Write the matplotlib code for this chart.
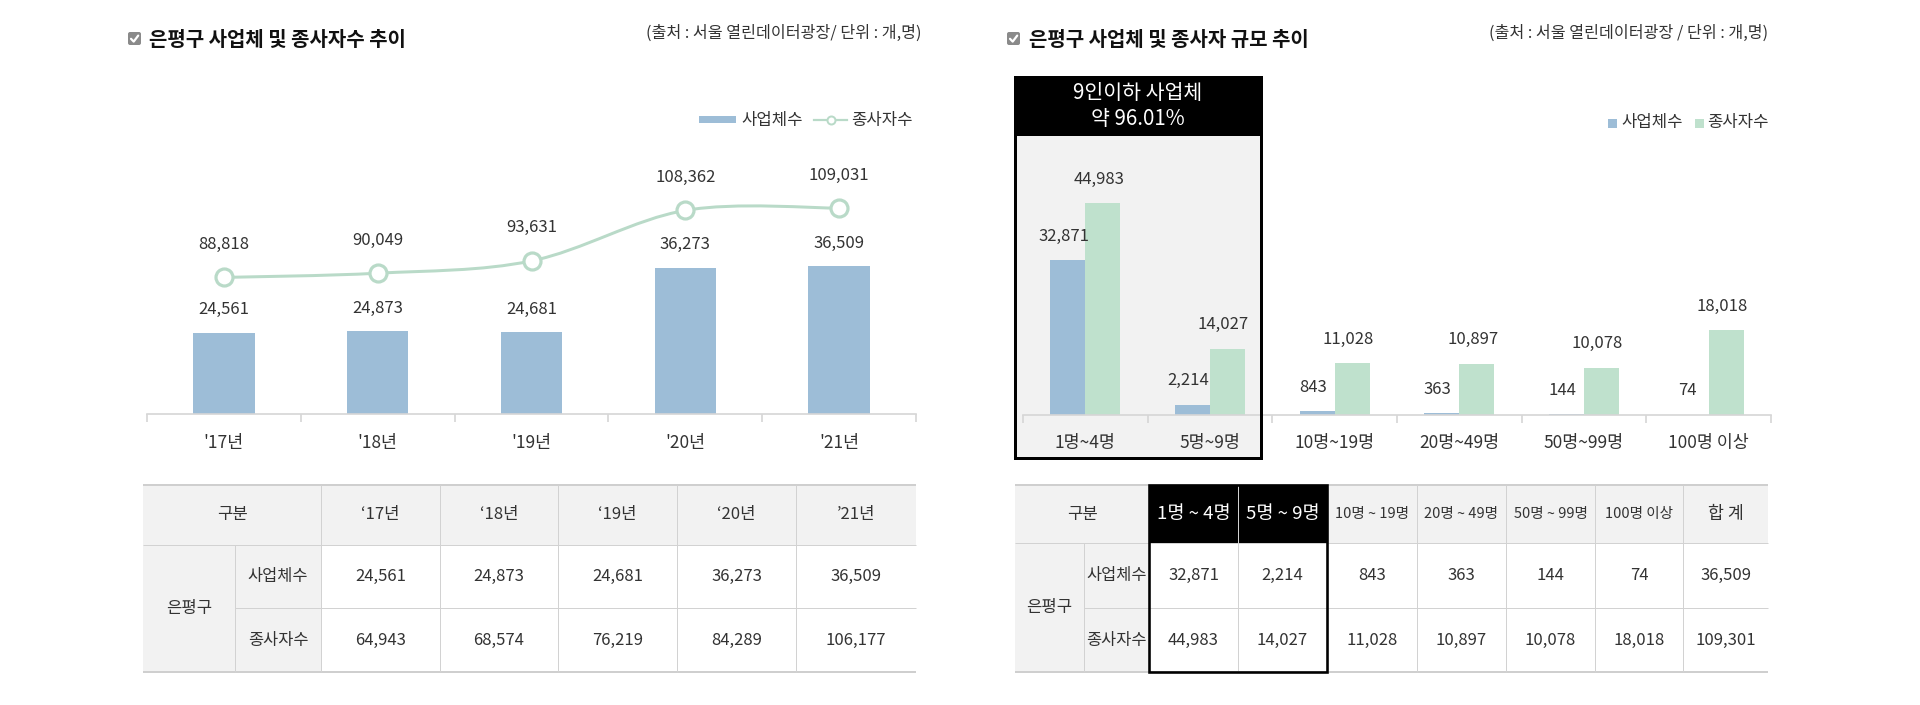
import matplotlib
matplotlib.use("Agg")
import matplotlib.pyplot as plt
from matplotlib.patches import Rectangle, FancyBboxPatch, PathPatch
from matplotlib.path import Path
import numpy as np

plt.rcParams['font.family'] = ['Noto Sans CJK KR', 'DejaVu Sans']

# ---------------- data ----------------
years = ["'17년", "'18년", "'19년", "'20년", "'21년"]
biz_counts = [24561, 24873, 24681, 36273, 36509]
worker_counts = [88818, 90049, 93631, 108362, 109031]

table_years = ["‘17년", "‘18년", "‘19년", "‘20년", "’21년"]
table_biz = [24561, 24873, 24681, 36273, 36509]
table_workers = [64943, 68574, 76219, 84289, 106177]

size_classes = ["1명~4명", "5명~9명", "10명~19명", "20명~49명", "50명~99명", "100명 이상"]
size_biz = [32871, 2214, 843, 363, 144, 74]
size_workers = [44983, 14027, 11028, 10897, 10078, 18018]

size_table_headers = ["1명 ~ 4명", "5명 ~ 9명", "10명 ~ 19명", "20명 ~ 49명",
                      "50명 ~ 99명", "100명 이상", "합 계"]
size_table_biz = [32871, 2214, 843, 363, 144, 74, 36509]
size_table_workers = [44983, 14027, 11028, 10897, 10078, 18018, 109301]

left_title = "은평구 사업체 및 종사자수 추이"
right_title = "은평구 사업체 및 종사자 규모 추이"
left_source = "(출처 : 서울 열린데이터광장/ 단위 : 개,명)"
right_source = "(출처 : 서울 열린데이터광장 / 단위 : 개,명)"
series_names = ["사업체수", "종사자수"]
highlight_lines = ["9인이하 사업체", "약 96.01%"]

# ---------------- style ----------------
BLUE = "#9dbdd7"
GREEN = "#bfe1cd"
LINE_GREEN = "#b9dac8"
AXIS_GREY = "#d6d6d6"
TXT = "#333333"
HDR_BG = "#f2f2f2"
GRID = "#d2d2d2"

W, H = 1920, 705
fig = plt.figure(figsize=(W / 100, H / 100), dpi=100)
fig.patch.set_facecolor("white")


def px_axes(x0, y0, x1, y1, **kw):
    return fig.add_axes([x0 / W, 1 - y1 / H, (x1 - x0) / W, (y1 - y0) / H], **kw)


bg = px_axes(0, 0, W, H, zorder=0)
bg.set_xlim(0, W); bg.set_ylim(H, 0); bg.axis("off")

ov = px_axes(0, 0, W, H, zorder=10, facecolor="none")
ov.set_xlim(0, W); ov.set_ylim(H, 0); ov.axis("off")

PT = 0.72  # points per pixel


def checkbox(x, y):
    ov.add_patch(FancyBboxPatch((x, y), 13, 13, boxstyle="round,pad=0,rounding_size=2",
                                fc="#8a8a8a", ec="none"))
    ov.plot([x + 3, x + 5.7, x + 10.2], [y + 6.8, y + 9.6, y + 3.6], color="white",
            lw=1.6, solid_capstyle="round", solid_joinstyle="round")


def style_axis(ax, n):
    for s in ["left", "right", "top"]:
        ax.spines[s].set_visible(False)
    ax.spines["bottom"].set_color(AXIS_GREY)
    ax.spines["bottom"].set_linewidth(1.2)
    ax.set_xlim(-0.5, n - 0.5)
    ax.set_xticks(np.arange(n + 1) - 0.5)
    ax.set_xticklabels([])
    ax.tick_params(axis="x", direction="out", length=6, width=1.2, color=AXIS_GREY)
    ax.set_yticks([])


# ---------------- titles ----------------
checkbox(128, 32)
ov.text(149, 39, left_title, fontsize=14.4, fontweight="bold", color="#111111", va="center", ha="left")
ov.text(921, 33, left_source, fontsize=11.6, color=TXT, va="center", ha="right")
checkbox(1007, 32)
ov.text(1029, 39, right_title, fontsize=14.4, fontweight="bold", color="#111111", va="center", ha="left")
ov.text(1768, 33, right_source, fontsize=11.6, color=TXT, va="center", ha="right")

VAL_FS = 12
XL_FS = 12.5

# ---------------- left chart ----------------
ax1 = px_axes(147, 164, 916, 414, facecolor="none", zorder=2)
n1 = len(years)
x1 = np.arange(n1)
ax1.bar(x1, biz_counts, width=0.4, color=BLUE, zorder=2)
ax1.set_ylim(10000, 54835)
style_axis(ax1, n1)
for i, v in enumerate(biz_counts):
    ax1.annotate(f"{v:,}", (i, v), xytext=(0, 23 * PT), textcoords="offset points",
                 ha="center", va="center", fontsize=VAL_FS, color=TXT)
for i, lab in enumerate(years):
    ax1.annotate(lab, (i, 10000), xytext=(0, -29 * PT), textcoords="offset points",
                 ha="center", va="center", fontsize=XL_FS, color=TXT, annotation_clip=False)

ax2 = ax1.twinx()
ax2.set_ylim(49000, 121886)
ax2.axis("off")
# smooth (Bezier) line through the data points
pts = np.column_stack([x1, worker_counts]).astype(float)
verts = [tuple(pts[0])]
codes = [Path.MOVETO]
for i in range(len(pts) - 1):
    p0 = pts[max(i - 1, 0)]
    p1 = pts[i]
    p2 = pts[i + 1]
    p3 = pts[min(i + 2, len(pts) - 1)]
    c1 = p1 + (p2 - p0) / 6.0
    c2 = p2 - (p3 - p1) / 6.0
    verts += [tuple(c1), tuple(c2), tuple(p2)]
    codes += [Path.CURVE4] * 3
ax2.add_patch(PathPatch(Path(verts, codes), fc="none", ec=LINE_GREEN, lw=3 * PT, zorder=3))
ax2.plot(x1, worker_counts, "o", ms=17 * PT, mfc="white", mec=LINE_GREEN, mew=3.2 * PT, zorder=4)
for i, v in enumerate(worker_counts):
    ax2.annotate(f"{v:,}", (i, v), xytext=(0, 33 * PT), textcoords="offset points",
                 ha="center", va="center", fontsize=VAL_FS, color=TXT)

# left legend
ov.add_patch(Rectangle((699, 116), 37, 7, fc=BLUE, ec="none"))
ov.text(741, 120, series_names[0], fontsize=12, color=TXT, va="center", ha="left")
ov.plot([814, 847], [120, 120], color=LINE_GREEN, lw=2.2 * PT)
ov.plot([831], [120], "o", ms=8 * PT, mfc="white", mec=LINE_GREEN, mew=2 * PT)
ov.text(851, 120, series_names[1], fontsize=12, color=TXT, va="center", ha="left")

# ---------------- right chart ----------------
# highlight box background
bg.add_patch(Rectangle((1015, 136), 246, 322, fc="#f2f2f2", ec="none"))

ax3 = px_axes(1023, 165, 1771, 415, facecolor="none", zorder=2)
n3 = len(size_classes)
x3 = np.arange(n3)
bw = 0.282
ax3.bar(x3 - bw / 2, size_biz, width=bw, color=BLUE, zorder=2)
ax3.bar(x3 + bw / 2, size_workers, width=bw, color=GREEN, zorder=2)
ax3.set_ylim(0, 53079)
style_axis(ax3, n3)
for i, v in enumerate(size_biz):
    ax3.annotate(f"{v:,}", (i - bw / 2, v), xytext=(-3, 24 * PT), textcoords="offset points",
                 ha="center", va="center", fontsize=VAL_FS, color=TXT)
for i, v in enumerate(size_workers):
    ax3.annotate(f"{v:,}", (i + bw / 2, v), xytext=(-3, 24 * PT), textcoords="offset points",
                 ha="center", va="center", fontsize=VAL_FS, color=TXT)
for i, lab in enumerate(size_classes):
    ax3.annotate(lab, (i, 0), xytext=(0, -28 * PT), textcoords="offset points",
                 ha="center", va="center", fontsize=XL_FS, color=TXT, annotation_clip=False)

# highlight box header and frame
ov.add_patch(Rectangle((1015, 77), 246, 59, fc="black", ec="none"))
ov.add_patch(Rectangle((1015, 77), 246, 381, fc="none", ec="black", lw=3 * PT))
ov.text(1138, 93, highlight_lines[0], fontsize=14.8, color="white", ha="center", va="center")
ov.text(1138, 119, highlight_lines[1], fontsize=14.8, color="white", ha="center", va="center")

# right legend
ov.add_patch(Rectangle((1608, 119), 9, 9, fc=BLUE, ec="none"))
ov.text(1621, 123, series_names[0], fontsize=12, color=TXT, va="center", ha="left")
ov.add_patch(Rectangle((1695, 119), 9, 9, fc=GREEN, ec="none"))
ov.text(1707, 123, series_names[1], fontsize=12, color=TXT, va="center", ha="left")


# ---------------- tables ----------------
def hline(x0, x1_, y, color=GRID, lw=1.0):
    ov.plot([x0, x1_], [y, y], color=color, lw=lw * PT, solid_capstyle="butt")


def vline(x, y0, y1, color=GRID, lw=1.0):
    ov.plot([x, x], [y0, y1], color=color, lw=lw * PT, solid_capstyle="butt")


def draw_table(xs, ys, headers, row1, row2, head_sizes, highlight=0):
    x0, xe = xs[0], xs[-1]
    # backgrounds
    ov.add_patch(Rectangle((x0, ys[0]), xe - x0, ys[1] - ys[0], fc=HDR_BG, ec="none", zorder=0))
    ov.add_patch(Rectangle((x0, ys[1]), xs[2] - x0, ys[3] - ys[1], fc=HDR_BG, ec="none", zorder=0))
    for k in range(highlight):
        ov.add_patch(Rectangle((xs[2 + k], ys[0]), xs[3 + k] - xs[2 + k], ys[1] - ys[0],
                               fc="black", ec="none", zorder=1))
    # lines
    hline(x0, xe, ys[0], color="#cfcfcf", lw=2)
    hline(x0, xe, ys[1])
    hline(xs[1], xe, ys[2])
    hline(x0, xe, ys[3], color="#cfcfcf", lw=2)
    vline(xs[1], ys[1], ys[3])
    for xv in xs[2:-1]:
        vline(xv, ys[0], ys[3])
    if highlight:
        ov.add_patch(Rectangle((xs[2], ys[0]), xs[2 + highlight] - xs[2], ys[3] - ys[0],
                               fc="none", ec="black", lw=2.6 * PT, zorder=3))
    # texts
    cy = [(ys[0] + ys[1]) / 2, (ys[1] + ys[2]) / 2, (ys[2] + ys[3]) / 2]
    ov.text((x0 + xs[2]) / 2, cy[0], "구분", fontsize=12, color=TXT, ha="center", va="center")
    ov.text((x0 + xs[1]) / 2, (ys[1] + ys[3]) / 2, "은평구", fontsize=12, color=TXT,
            ha="center", va="center")
    ov.text((xs[1] + xs[2]) / 2, cy[1], series_names[0], fontsize=11.8, color=TXT, ha="center", va="center")
    ov.text((xs[1] + xs[2]) / 2, cy[2], series_names[1], fontsize=11.8, color=TXT, ha="center", va="center")
    for k, h in enumerate(headers):
        xc = (xs[2 + k] + xs[3 + k]) / 2
        col = "white" if k < highlight else TXT
        ov.text(xc, cy[0], h, fontsize=head_sizes[k], color=col, ha="center", va="center", zorder=4)
        ov.text(xc, cy[1], f"{row1[k]:,}", fontsize=12, color=TXT, ha="center", va="center")
        ov.text(xc, cy[2], f"{row2[k]:,}", fontsize=12, color=TXT, ha="center", va="center")


draw_table([143, 235, 321, 440, 558, 677, 796, 916], [485, 545, 608, 672],
           table_years, table_biz, table_workers, [12] * 5)

draw_table([1015, 1084, 1149, 1238, 1327, 1417, 1506, 1595, 1683, 1768], [485, 543, 608, 672],
           size_table_headers, size_table_biz, size_table_workers,
           [13.4, 13.4, 10.5, 10.5, 10.5, 10.5, 12.5], highlight=2)

fig.savefig("out.png", dpi=100, facecolor="white")
